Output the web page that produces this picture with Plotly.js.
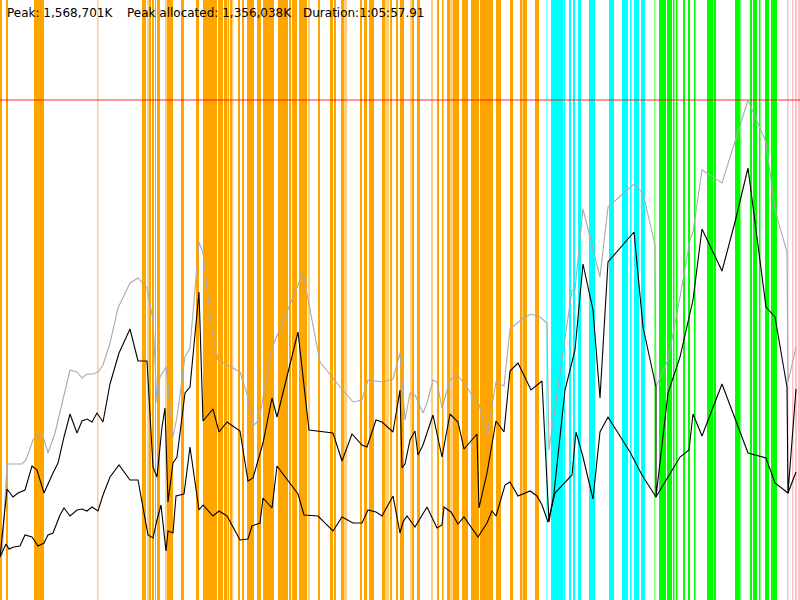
<!DOCTYPE html>
<html>
<head>
<meta charset="utf-8">
<script src="https://cdn.plot.ly/plotly-3.0.1.min.js"></script>
<style>html,body{margin:0;padding:0;background:#fff;}#chart{width:800px;height:600px;}</style>
</head>
<body>
<div id="chart"></div>
<script>
// time axis 0..800 units, memory axis 0..600 units (peak = 500)
const peakLevel = 500;
const headerTexts = ["Peak: 1,568,701K", "Peak allocated: 1,356,038K", "Duration:1:05:57.91"];

// event intervals [start, end]
const orangeBands = [[0,2],[6,8],[34,44],[142,146],[149,151],[152,154],[155,156],[157,160],[167,173],[181,184],[196,199],
  [203,217],[218,223],[224,227],[227.5,229],[230,232],[238,240],[242,244],[247,254],[257,261],[263,274],[278,288],[289,291],[292,297],[299,307],[318,320],[330,333],[334,336],[341,344],[360,362],[364,367],[369,374],[382,385],[390,392],[396,398],
  [400,404],[412,414],[417,420],[437,439],[442,443.5],[447,450],[453,459],[462,468],[471,479],[480,493],[496,501],[510,513],[520,522],[522.5,527],[535,539]];
const paleOrangeBands = [[97,98.5],[147,149],[165,167],[232,233.5],[308,310],[344,347],[385,389],[410,412],[431,433],[450,453]];
const cyanBands = [[551,563],[563.5,565],[569,571],[573,575],[578,581],[589,595],[609,614],[622,628],[630,631.5],[634,639],[641,645]];
const paleCyanBands = [[546,547.5]];
const greenBands = [[659,666],[667,672],[673,674.5],[676,677.5],[683,685],[688,690],[694,695.5],[707,713],[713.5,716],[735,740],[750,752],[753,757],[759,760.5],[765,769],[771,777]];
const paleGreenBands = [[654,655.5],[740,741.5]];
const pinkBands = [[787,788.5],[792,793.5],[795,797],[798,800]];

// total memory (gray)
const totalX = [2,7,22,26,33,38,43,48,55,60,70,77,82,87,93,98,103,110,118,130,138,147,153,157,160,166,173,177,185,190,199,203,212,218,240,248,253,259,265,272,303,308,320,337,353,362,368,383,393,400,405,410,415,423,427,433,437,442,450,458,467,477,479,487,496,504,510,522,531,540,547,549,572,575,583,600,608,634,643,655,656,668,680,690,693,702,722,748,766,775,787,788,796];
const totalY = [45,136,136,140,160,166,164,147,167,187,230,228,222,226,226,228,235,257,292,317,322,312,280,197,223,233,163,183,243,252,358,347,270,240,228,203,174,180,213,252,327,300,238,217,198,200,220,218,221,247,180,207,205,187,197,220,218,192,220,224,213,196,196,165,218,214,271,281,286,283,277,150,310,310,391,323,393,416,407,355,213,240,303,360,368,430,417,500,458,390,348,218,253];

// allocated memory (upper black)
const allocX = [0,7,13,18,25,32,37,44,53,58,64,70,77,82,87,92,97,103,110,119,130,138,147,153,157,162,165,168,173,177,185,190,199,203,213,219,227,240,248,253,263,272,277,298,309,333,342,352,362,367,376,382,393,400,402,405,410,415,418,423,433,442,450,458,464,477,479,487,496,504,510,518,531,542,549,554,565,575,583,593,600,608,634,643,656,656,668,680,693,702,722,735,748,766,775,787,788,796];
const allocY = [43,111,103,107,110,134,130,107,127,137,163,186,167,179,181,178,187,178,216,247,271,239,239,133,123,173,192,98,137,143,207,213,308,179,191,168,178,169,119,122,157,202,183,268,170,167,139,166,155,153,180,178,168,210,132,136,160,169,145,155,185,143,186,178,151,166,92,127,179,168,229,237,210,219,78,107,210,250,336,290,202,338,368,273,213,103,207,243,300,371,329,378,432,293,283,213,107,211];

// live memory (lower black)
const liveX = [0,4,6,9,14,20,25,32,38,44,48,53,60,64,70,77,82,87,92,98,103,110,119,130,138,148,153,157,161,166,168,173,176,184,190,199,203,213,219,227,240,248,252,260,263,272,277,298,304,318,333,342,353,362,368,376,382,393,400,403,407,415,427,437,442,444,451,458,464,478,487,492,496,505,510,518,530,537,542,548,555,572,576,583,593,600,608,630,642,656,668,680,689,693,702,722,748,766,775,788,796];
const liveY = [43,52,56,51,53,54,65,63,54,57,65,67,85,92,84,90,91,89,93,89,105,123,135,120,120,65,62,80,95,49,69,67,104,106,153,90,95,84,89,84,60,61,74,77,102,92,134,106,85,84,69,83,77,77,90,88,84,104,67,78,84,73,93,72,75,93,88,76,83,63,77,89,84,115,118,104,109,104,95,78,107,125,168,143,101,168,183,148,125,103,123,143,150,186,164,216,147,142,117,107,128];

function bandTrace(bands, color) {
  return {
    type: 'bar',
    x: bands.map(b => (b[0] + b[1]) / 2),
    width: bands.map(b => b[1] - b[0]),
    y: bands.map(() => 600),
    marker: {color: color, line: {width: 0}},
    hoverinfo: 'skip'
  };
}

const traces = [
  bandTrace(orangeBands, '#ffa500'),
  bandTrace(paleOrangeBands, '#ffd080'),
  bandTrace(cyanBands, '#00ffff'),
  bandTrace(paleCyanBands, '#80ffff'),
  bandTrace(greenBands, '#00ff00'),
  bandTrace(paleGreenBands, '#80ff80'),
  bandTrace(pinkBands, '#ffc0cb'),
  {type:'scatter', mode:'lines', x:[0,800], y:[peakLevel,peakLevel], line:{color:'rgba(255,0,0,0.55)', width:1.5}},
  {type:'scatter', mode:'lines', x:totalX, y:totalY, line:{color:'#aaaaaa', width:1.1}},
  {type:'scatter', mode:'lines', x:allocX, y:allocY, line:{color:'#000000', width:1.1}},
  {type:'scatter', mode:'lines', x:liveX, y:liveY, line:{color:'#000000', width:1.1}}
];

const headerX = [5, 125, 301];
const layout = {
  width: 800, height: 600,
  margin: {l:0, r:0, t:0, b:0, pad:0},
  paper_bgcolor: '#ffffff', plot_bgcolor: '#ffffff',
  showlegend: false,
  barmode: 'overlay',
  xaxis: {range:[0,800], visible:false, fixedrange:true},
  yaxis: {range:[0,600], visible:false, fixedrange:true},
  annotations: headerTexts.map((t, i) => ({
    text: t, xref:'paper', yref:'paper', x: headerX[i]/800, y: 1 - 12.5/600,
    xanchor:'left', yanchor:'middle', showarrow:false,
    font:{family:'DejaVu Sans, sans-serif', size:12, color:'#000'}
  }))
};

Plotly.newPlot('chart', traces, layout, {staticPlot:true, displayModeBar:false});
</script>
</body>
</html>
